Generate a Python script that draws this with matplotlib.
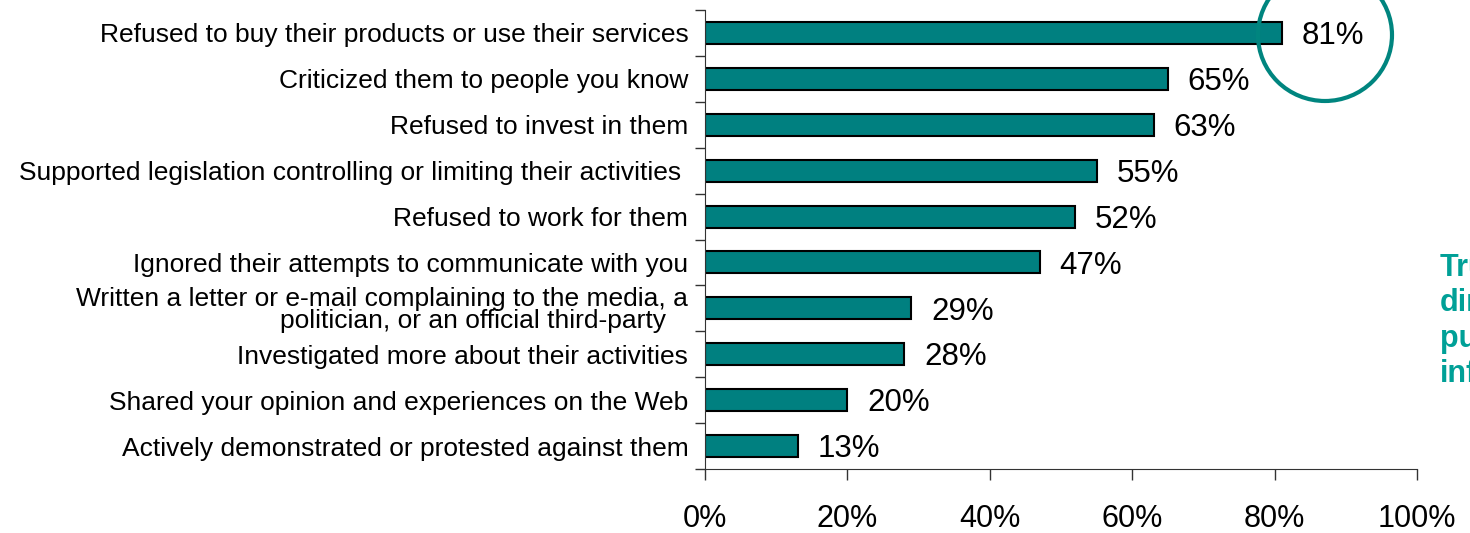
import matplotlib.pyplot as plt
from matplotlib.patches import Ellipse
import numpy as np

plt.rcParams['font.family'] = ['Liberation Sans', 'DejaVu Sans']

# Survey answers, top to bottom
actions = [
    "Refused to buy their products or use their services",
    "Criticized them to people you know",
    "Refused to invest in them",
    "Supported legislation controlling or limiting their activities ",
    "Refused to work for them",
    "Ignored their attempts to communicate with you",
    "Written a letter or e-mail complaining to the media, a\npolitician, or an official third-party   ",
    "Investigated more about their activities",
    "Shared your opinion and experiences on the Web",
    "Actively demonstrated or protested against them",
]
shares = [81, 65, 63, 55, 52, 47, 29, 28, 20, 13]
x_ticks = [0, 20, 40, 60, 80, 100]
x_tick_labels = ["0%", "20%", "40%", "60%", "80%", "100%"]

fig = plt.figure(figsize=(14.7, 5.33), dpi=100)
ax = fig.add_axes([705 / 1470, 64 / 533, 712 / 1470, 459 / 533])

y = np.arange(len(actions))
ax.barh(y, shares, height=0.48, color='#008080', edgecolor='black', linewidth=1.5)

for yi, v in zip(y, shares):
    ax.text(v + 2.8, yi + 0.07, f"{v}%", va='center', ha='left', fontsize=22.5)

ax.set_xlim(0, 100)
ax.set_ylim(len(actions) - 0.5, -0.5)

ax.set_yticks(y)
ax.set_yticklabels(actions, fontsize=19, linespacing=0.92)
ax.set_yticks(np.arange(len(actions) + 1) - 0.5, minor=True)
ax.tick_params(axis='y', which='major', length=0, pad=12)
ax.tick_params(axis='y', which='minor', length=7, width=1, color='#333333')

ax.set_xticks(x_ticks)
ax.set_xticklabels(x_tick_labels, fontsize=22)
ax.tick_params(axis='x', length=8, width=1, pad=17, color='#333333')

for side in ['top', 'right']:
    ax.spines[side].set_visible(False)
ax.spines['left'].set_color('#333333')
ax.spines['bottom'].set_color('#333333')

# ring around the top result
ring = Ellipse((1325 / 1470, 1 - 35 / 533), 134 / 1470, 132 / 533,
               transform=fig.transFigure, fill=False, edgecolor='#00857f', linewidth=3)
fig.patches.append(ring)

fig.text(1440 / 1470, 1 - 321 / 533, "Trust\ndirectly\npurchase\ninfluence",
         color='#00a097', fontsize=22, fontweight='bold', va='center', ha='left', linespacing=1.22)

fig.savefig('out.png', dpi=100)
